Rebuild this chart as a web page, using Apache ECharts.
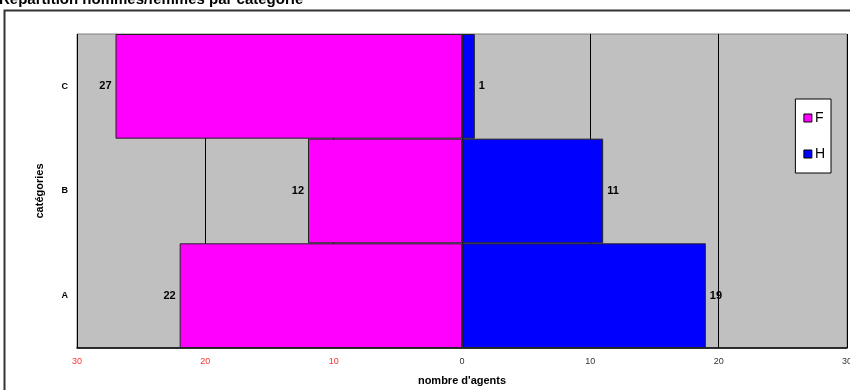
<!DOCTYPE html>
<html>
<head>
<meta charset="utf-8">
<script src="https://cdn.jsdelivr.net/npm/echarts@6/dist/echarts.min.js"></script>
<style>
  html, body { margin: 0; padding: 0; background: #ffffff; }
  #chart { width: 850px; height: 390px; }
</style>
</head>
<body>
<div id="chart"></div>
<script>
// Categories, bottom to top
const categories = ['A', 'B', 'C'];
// Number of agents per category
const femmes = [22, 12, 27];
const hommes = [19, 11, 1];
// Horizontal axis range and step
const axisMin = -30;
const axisMax = 30;
const axisStep = 10;

const chart = echarts.init(document.getElementById('chart'), null, { renderer: 'canvas' });

const font = 'Arial, "Liberation Sans", sans-serif';

chart.setOption({
  animation: false,
  backgroundColor: '#ffffff',
  title: {
    text: 'Répartition hommes/femmes par catégorie',
    left: -1,
    top: -8,
    padding: 0,
    textStyle: { fontFamily: font, fontSize: 15, fontWeight: 'bold', color: '#000' }
  },
  graphic: [{
    type: 'rect',
    silent: true,
    z: -10,
    shape: { x: 4.5, y: 10.5, width: 900, height: 500 },
    style: { fill: 'none', stroke: '#333333', lineWidth: 2 }
  }],
  legend: {
    orient: 'vertical',
    right: 19,
    top: 99,
    width: 36,
    padding: [12, 6, 12, 8],
    itemGap: 22,
    itemWidth: 8,
    itemHeight: 8,
    backgroundColor: '#ffffff',
    borderColor: '#000000',
    borderWidth: 1,
    icon: 'rect',
    textStyle: { fontFamily: font, fontSize: 14, color: '#000', padding: [0, 0, 0, -2] },
    itemStyle: { borderColor: '#000', borderWidth: 1 },
    data: ['F', 'H']
  },
  grid: {
    left: 77,
    right: 3,
    top: 34,
    bottom: 42,
    outerBoundsMode: 'none',
    containLabel: false,
    show: true,
    backgroundColor: '#C0C0C0',
    borderColor: '#808080',
    borderWidth: 1
  },
  xAxis: {
    type: 'value',
    min: axisMin,
    max: axisMax,
    interval: axisStep,
    name: "nombre d'agents",
    nameLocation: 'middle',
    nameGap: 27,
    nameTextStyle: { fontFamily: font, fontSize: 11, fontWeight: 'bold', color: '#000' },
    axisLine: { show: true, onZero: false, lineStyle: { color: '#000', width: 1.5 } },
    axisTick: { show: false },
    splitLine: { show: true, lineStyle: { color: '#000', width: 1 } },
    axisLabel: {
      margin: 9,
      fontFamily: font,
      fontSize: 9,
      formatter: v => String(Math.abs(v)),
      color: v => (v < 0 ? '#ff3030' : '#333333')
    }
  },
  yAxis: {
    type: 'category',
    data: categories,
    name: 'catégories',
    nameLocation: 'middle',
    nameGap: 32,
    nameRotate: 90,
    nameTextStyle: { fontFamily: font, fontSize: 11, fontWeight: 'bold', color: '#000' },
    axisLine: { show: false },
    axisTick: { show: false },
    splitLine: { show: false },
    axisLabel: {
      margin: 9,
      fontFamily: font,
      fontSize: 9,
      fontWeight: 'bold',
      color: '#000'
    }
  },
  series: [
    {
      name: 'F',
      type: 'bar',
      data: femmes.map(v => -v),
      barGap: '-100%',
      barCategoryGap: 0,
      itemStyle: { color: '#FF00FF', borderColor: '#222', borderWidth: 1 },
      label: {
        show: true,
        position: 'left',
        distance: 4,
        fontFamily: font,
        fontSize: 11,
        fontWeight: 'bold',
        color: '#000',
        formatter: p => String(Math.abs(p.value))
      }
    },
    {
      name: 'H',
      type: 'bar',
      data: hommes,
      barGap: '-100%',
      barCategoryGap: 0,
      itemStyle: { color: '#0000FF', borderColor: '#222', borderWidth: 1 },
      label: {
        show: true,
        position: 'right',
        distance: 4,
        fontFamily: font,
        fontSize: 11,
        fontWeight: 'bold',
        color: '#000'
      }
    }
  ]
});
</script>
</body>
</html>
